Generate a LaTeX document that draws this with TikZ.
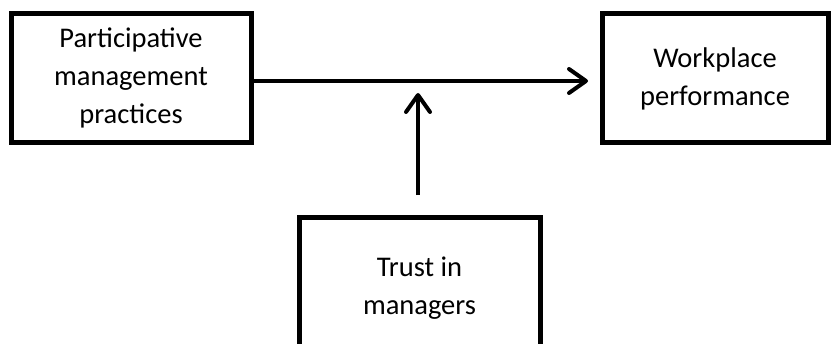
\documentclass[tikz,border=0pt]{standalone}
\usepackage{fontspec}
\setmainfont{Carlito}
\usetikzlibrary{arrows.meta}
\begin{document}
\begin{tikzpicture}[x=1pt,y=1pt,
	box/.style={draw, line width=5pt, align=center, inner sep=0pt,
		font=\fontsize{28.5}{38}\selectfont},
	arr/.style={line width=4pt, -{Straight Barb[length=17pt,width=24pt,round]}}]
	\useasboundingbox (0,0) rectangle (834,343);
	% the three boxes
	\node [box, minimum width=240pt, minimum height=129pt] (part) at (131,265) {Participative\\management\\practices};
	\node [box, minimum width=226pt, minimum height=129pt] (perf) at (715,264.5) {Workplace\\performance};
	\node [box, minimum width=241pt, minimum height=142pt] (trust) at (419.5,54.5) {Trust in\\managers};
	% arrow ends
	\coordinate (hend) at (588,262);
	\coordinate (vend) at (418,250);
	\draw [arr] (part.east |- hend) -- (hend);
	\draw [arr, shorten <=20pt] (trust.north -| vend) -- (vend);
\end{tikzpicture}
\end{document}
